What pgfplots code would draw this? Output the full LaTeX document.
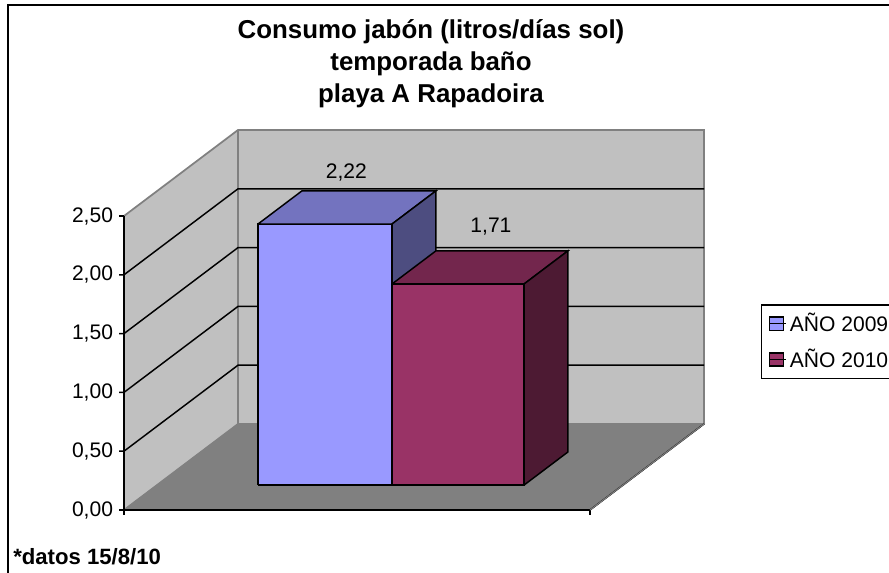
\documentclass[border=0pt]{standalone}
\usepackage{fontspec}
\setmainfont{Liberation Sans}
\usepackage{pgfplots}
\pgfplotsset{compat=1.18}
\definecolor{wall}{HTML}{C0C0C0}
\definecolor{floorc}{HTML}{808080}
\definecolor{aF}{HTML}{9999FF}
\definecolor{aT}{HTML}{7373BF}
\definecolor{aS}{HTML}{4D4D80}
\definecolor{bF}{HTML}{993366}
\definecolor{bT}{HTML}{73264D}
\definecolor{bS}{HTML}{4D1A33}
\begin{document}
\begin{tikzpicture}[x=0.75pt,y=-0.75pt,line join=miter]
\fill[white] (0,0) rectangle (889,573);
\draw[black,line width=1.5pt] (889,5.5) -- (8,5.5) -- (8,573);
\node[font=\fontsize{19.4}{22}\selectfont\bfseries] at (431,32) {Consumo jabón (litros/días sol)};
\node[font=\fontsize{19.4}{22}\selectfont\bfseries] at (431,64) {temporada baño};
\node[font=\fontsize{19.4}{22}\selectfont\bfseries] at (431,96) {playa A Rapadoira};
\node[font=\fontsize{16.6}{20}\selectfont\bfseries,anchor=west,inner sep=0pt] at (13,557) {*datos 15/8/10};
\begin{axis}[
  at={(93pt,-382.5pt)}, anchor=origin,
  x={(0.75pt,0pt)}, y={(85.5pt,64.5pt)}, z={(0pt,88.2pt)},
  xmin=0, xmax=466, ymin=0, ymax=1, zmin=0, zmax=2.5,
  clip=false,
  axis lines=left,
  axis on top,
  axis line style={-,black,line width=1.1pt},
  y axis line style={draw=floorc,line width=0.8pt},
  xtick=\empty, ytick=\empty, ztick=\empty,
  /pgf/number format/.cd, use comma, fixed, fixed zerofill, precision=2, assume math mode=true,
  /pgfplots/.cd,
  every axis plot/.append style={mark=none},
  legend cell align=left,
  legend style={at={(axis description cs:1.098,0.542)},anchor=north west,draw=black,line width=1.1pt,
    font=\fontsize{15.8}{18}\selectfont,row sep=7.5pt,inner xsep=5.2pt,inner ysep=4.5pt},
]
\addlegendimage{legend image code/.code={\draw[black,line width=1.1pt,fill=aF] (0pt,-5pt) rectangle (10.5pt,5pt);\path (0pt,0pt) -- (12.9pt,0pt);}}
\addlegendentry{AÑO 2009}
\addlegendimage{legend image code/.code={\draw[black,line width=1.1pt,fill=bF] (0pt,-5pt) rectangle (10.5pt,5pt);\path (0pt,0pt) -- (12.9pt,0pt);}}
\addlegendentry{AÑO 2010}
% walls and floor
\addplot3[fill=wall,draw=floorc,line width=1.3pt] coordinates {(0,0,0) (0,1,0) (466,1,0) (466,1,2.5) (0,1,2.5) (0,0,2.5) (0,0,0)};
\addplot3[draw=floorc,line width=1.3pt] coordinates {(0,1,0) (0,1,2.5)};
\addplot3[fill=floorc,draw=floorc,line width=0.6pt] coordinates {(0,0,0) (466,0,0) (466,1,0) (0,1,0) (0,0,0)};
\addplot3[draw=black,line width=1.1pt] coordinates {(466,0,0) (466,1,0)};
% gridlines with their ticks
\addplot3[draw=black,line width=1.1pt] coordinates {(-5,0,0.5) (0,0,0.5) (0,1,0.5) (466,1,0.5)};
\addplot3[draw=black,line width=1.1pt] coordinates {(-5,0,1) (0,0,1) (0,1,1) (466,1,1)};
\addplot3[draw=black,line width=1.1pt] coordinates {(-5,0,1.5) (0,0,1.5) (0,1,1.5) (466,1,1.5)};
\addplot3[draw=black,line width=1.1pt] coordinates {(-5,0,2) (0,0,2) (0,1,2) (466,1,2)};
\addplot3[draw=black,line width=1.1pt] coordinates {(-5,0,2.5) (0,0,2.5)};
\addplot3[draw=black,line width=1.1pt] coordinates {(-5,0,0) (0,0,0) (0,0,-0.04)};
\addplot3[draw=black,line width=1.1pt] coordinates {(466,0,0) (466,0,-0.04)};
% value axis labels
\addplot3[draw=none,point meta=z,nodes near coords={\pgfmathprintnumber{\pgfplotspointmeta}},nodes near coords align={center},
  every node near coord/.append style={font=\fontsize{15.8}{18}\selectfont,black}]
  coordinates {(-31.5,0,0) (-31.5,0,0.5) (-31.5,0,1) (-31.5,0,1.5) (-31.5,0,2) (-31.5,0,2.5)};
% bar AÑO 2009
\addplot3[fill=aF,draw=black,line width=1.1pt] coordinates {(101,0.29,0) (235,0.29,0) (235,0.29,2.22) (101,0.29,2.22) (101,0.29,0)};
\addplot3[fill=aT,draw=black,line width=1.1pt] coordinates {(101,0.29,2.22) (235,0.29,2.22) (235,0.675,2.22) (101,0.675,2.22) (101,0.29,2.22)};
\addplot3[fill=aS,draw=black,line width=1.1pt] coordinates {(235,0.29,0) (235,0.675,0) (235,0.675,2.22) (235,0.29,2.22) (235,0.29,0)};
% bar AÑO 2010
\addplot3[fill=bF,draw=black,line width=1.1pt] coordinates {(235,0.29,0) (367,0.29,0) (367,0.29,1.71) (235,0.29,1.71) (235,0.29,0)};
\addplot3[fill=bT,draw=black,line width=1.1pt] coordinates {(235,0.29,1.71) (367,0.29,1.71) (367,0.675,1.71) (235,0.675,1.71) (235,0.29,1.71)};
\addplot3[fill=bS,draw=black,line width=1.1pt] coordinates {(367,0.29,0) (367,0.675,0) (367,0.675,1.71) (367,0.29,1.71) (367,0.29,0)};
% data labels
\addplot3[draw=none,point meta=z,nodes near coords={\pgfmathprintnumber{\pgfplotspointmeta}},nodes near coords align={center},
  every node near coord/.append style={font=\fontsize{15.8}{18}\selectfont,black}] coordinates {(121.6,0.884,2.22)};
\addplot3[draw=none,point meta=z,nodes near coords={\pgfmathprintnumber{\pgfplotspointmeta}},nodes near coords align={center},
  every node near coord/.append style={font=\fontsize{15.8}{18}\selectfont,black}] coordinates {(258.2,0.954,1.71)};
\end{axis}
\pgfresetboundingbox
\useasboundingbox (0,0) rectangle (889,573);
\end{tikzpicture}
\end{document}
